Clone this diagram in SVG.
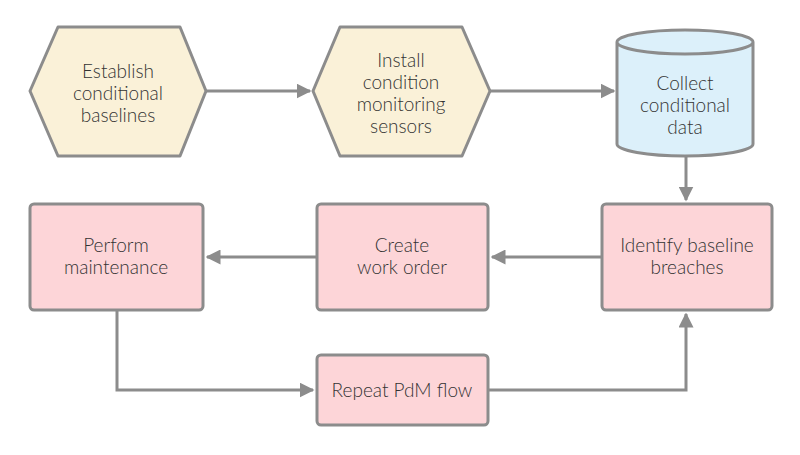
<svg xmlns="http://www.w3.org/2000/svg" width="800" height="455" viewBox="0 0 800 455">
<style>
.s{stroke:#8c8c8c;stroke-width:3;stroke-linejoin:round}
.hex{fill:#faf1d8}.box{fill:#fdd5d8}.cyl{fill:#dcf0fa}
text{font-family:Lato,"Liberation Sans",sans-serif;font-size:19px;font-weight:300;fill:#333;text-anchor:middle}
.c{fill:none;stroke:#8c8c8c;stroke-width:3}
</style>
<defs><marker id="a" viewBox="0 0 10 10" refX="9" refY="5" markerWidth="5" markerHeight="5" orient="auto" markerUnits="strokeWidth"><path d="M0,0L10,5L0,10z" fill="#8c8c8c"/></marker></defs>
<rect width="800" height="455" fill="#fff"/>
<g id="connectors">
<path class="c" d="M206,91H310" marker-end="url(#a)"/>
<path class="c" d="M490,91H614" marker-end="url(#a)"/>
<path class="c" d="M686,157V200" marker-end="url(#a)"/>
<path class="c" d="M602,257H492" marker-end="url(#a)"/>
<path class="c" d="M317,257H207" marker-end="url(#a)"/>
<path class="c" d="M117,310V390H313" marker-end="url(#a)"/>
<path class="c" d="M488,390H686V314" marker-end="url(#a)"/>
</g>
<g id="n1"><polygon class="s hex" points="30,91 58,27 180,27 206,91 180,156 58,156"/><text x="118" y="78">Establish</text><text x="118" y="100">conditional</text><text x="118" y="122">baselines</text></g>
<g id="n2"><polygon class="s hex" points="313,91 340,27 462,27 490,91 462,156 340,156"/><text x="401" y="67">Install</text><text x="401" y="89">condition</text><text x="401" y="111">monitoring</text><text x="401" y="133">sensors</text></g>
<g id="n3"><path class="s cyl" d="M617,42V144A68,12 0 0 0 753,144V42A68,12 0 0 0 617,42A68,12 0 0 0 753,42"/><text x="685" y="90">Collect</text><text x="685" y="112">conditional</text><text x="685" y="134">data</text></g>
<g id="n4"><rect class="s box" x="602" y="204" width="170" height="106" rx="4"/><text x="687" y="252">Identify baseline</text><text x="687" y="274">breaches</text></g>
<g id="n5"><rect class="s box" x="317" y="204" width="171" height="106" rx="4"/><text x="402" y="252">Create</text><text x="402" y="274">work order</text></g>
<g id="n6"><rect class="s box" x="30" y="204" width="173" height="106" rx="4"/><text x="116" y="252">Perform</text><text x="116" y="274">maintenance</text></g>
<g id="n7"><rect class="s box" x="317" y="355" width="171" height="70" rx="4"/><text x="402" y="397">Repeat PdM flow</text></g>
</svg>
